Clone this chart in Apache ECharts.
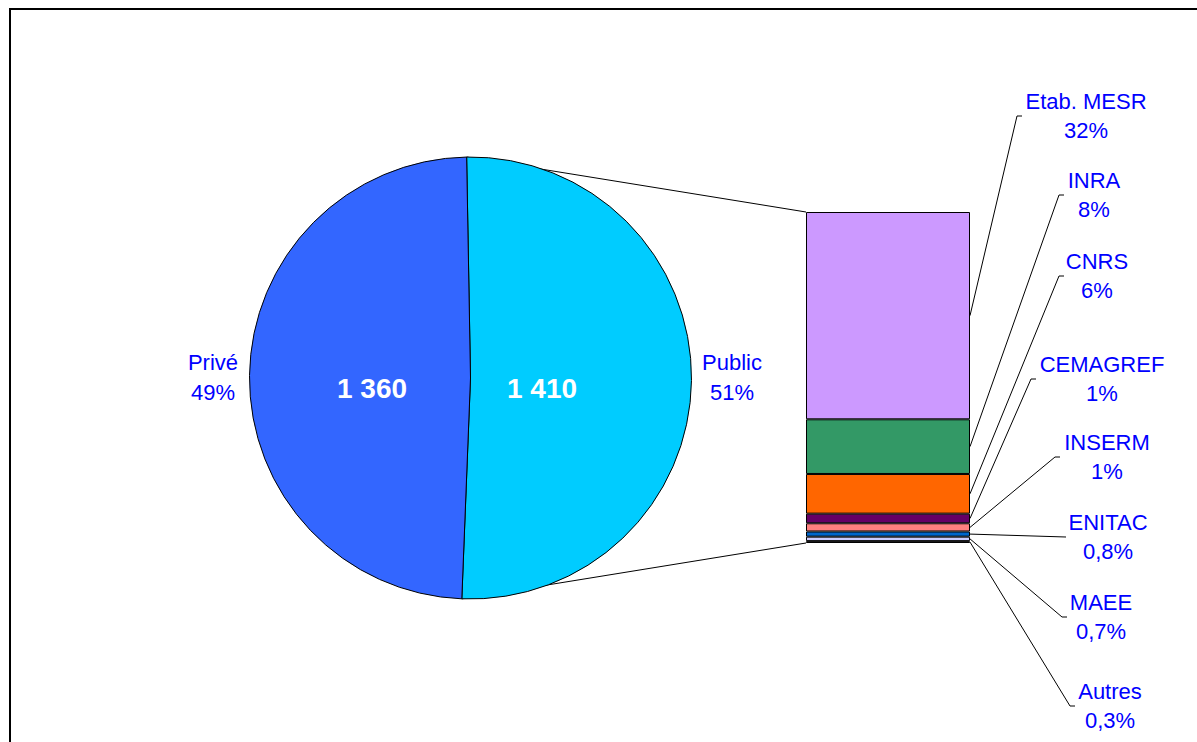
<!DOCTYPE html>
<html>
<head>
<meta charset="utf-8">
<script src="https://cdn.jsdelivr.net/npm/echarts@6/dist/echarts.min.js"></script>
<style>
html,body{margin:0;padding:0;background:#fff;}
#chart{width:1197px;height:742px;}
</style>
</head>
<body>
<div id="chart"></div>
<script>
// ---- Data ----
const pieNames = ['Public', 'Privé'];
const pieValues = [1410, 1360];
const barNames = ['Etab. MESR', 'INRA', 'CNRS', 'CEMAGREF', 'INSERM', 'ENITAC', 'MAEE', 'Autres'];
const barValues = [883, 233, 169, 41, 35, 22, 19, 8];
const barPctLabels = ['32%', '8%', '6%', '1%', '1%', '0,8%', '0,7%', '0,3%'];

// ---- Styles / layout ----
const pieColors = ['#00CCFF', '#3366FF'];
const barColors = ['#CC99FF', '#339966', '#FF6600', '#660066', '#FF8080', '#0066CC', '#CCCCFF', '#C0C0C0'];
const labelColor = '#0000FF';
const FONT = '"Liberation Sans", Arial, sans-serif';
const pieCenter = [470.5, 378];
const pieRadius = 221;
const pieStart = 91;
const grid = {left: 806, top: 212, width: 164, height: 331};
const pieValuePos = [[542, 388], [372, 388]];
const pieNamePos = [[732, 377], [213, 377]];
const leaderEnds = [[1017,116],[1059,195],[1059,276],[1031,379],[1055,457],[1066,537],[1062,617],[1070,706]];
const leaderTick = [5,5,5,5,5,0,5,5];
const labelCenterX = [1086,1094,1097,1102,1107,1108,1101,1110];

const total = pieValues.reduce((a, b) => a + b, 0);
const publicTotal = pieValues[0];
function fmt(v) { return String(v).replace(/\B(?=(\d{3})+(?!\d))/g, ' '); }

const chart = echarts.init(document.getElementById('chart'), null, {renderer: 'svg'});

const barSeries = barNames.map((n, i) => ({
  name: n,
  type: 'bar',
  stack: 'pub',
  barWidth: '100%',
  data: [barValues[i]],
  itemStyle: {color: barColors[i], borderColor: '#000', borderWidth: 1},
  emphasis: {disabled: true},
  z: 3
}));

chart.setOption({
  animation: false,
  backgroundColor: '#fff',
  grid: Object.assign({containLabel: false}, grid),
  xAxis: {type: 'category', data: ['Public'], show: false},
  yAxis: {type: 'value', min: 0, max: publicTotal, inverse: true, show: false},
  series: [
    {
      type: 'pie',
      center: pieCenter,
      radius: pieRadius,
      startAngle: pieStart,
      clockwise: true,
      z: 3,
      emphasis: {disabled: true},
      itemStyle: {borderColor: '#000', borderWidth: 1},
      data: pieNames.map((n, i) => ({name: n, value: pieValues[i], itemStyle: {color: pieColors[i]}})),
      label: {
        show: true,
        position: 'inside',
        formatter: p => fmt(p.value),
        color: '#fff',
        fontWeight: 'bold',
        fontSize: 28,
        fontFamily: FONT
      },
      labelLayout: p => ({x: pieValuePos[p.dataIndex][0], y: pieValuePos[p.dataIndex][1], align: 'center', verticalAlign: 'middle'}),
      labelLine: {show: false}
    }
  ].concat(barSeries)
});

// ---- Annotations computed from data through the library scales ----
const graphics = [];
graphics.push({type: 'rect', z: 0, shape: {x: 10, y: 9, width: 1200, height: 800}, style: {fill: 'none', stroke: '#000', lineWidth: 2}});

// connector lines from Public slice edges to bar corners
const toRad = Math.PI / 180;
const a0 = pieStart * toRad;
const a1 = (pieStart - 360 * pieValues[0] / total) * toRad;
const p0 = [pieCenter[0] + pieRadius * Math.cos(a0), pieCenter[1] - pieRadius * Math.sin(a0)];
const p1 = [pieCenter[0] + pieRadius * Math.cos(a1), pieCenter[1] - pieRadius * Math.sin(a1)];
const yTop = chart.convertToPixel({yAxisIndex: 0}, 0);
const yBot = chart.convertToPixel({yAxisIndex: 0}, publicTotal);
graphics.push({type: 'line', z: 1, shape: {x1: p0[0], y1: p0[1], x2: grid.left, y2: yTop}, style: {stroke: '#000', lineWidth: 1}});
graphics.push({type: 'line', z: 1, shape: {x1: p1[0], y1: p1[1], x2: grid.left, y2: yBot}, style: {stroke: '#000', lineWidth: 1}});

// pie outer labels
pieNames.forEach((n, i) => {
  graphics.push({
    type: 'text', z: 5, x: pieNamePos[i][0], y: pieNamePos[i][1],
    style: {text: n + '\n' + Math.round(pieValues[i] / total * 100) + '%', fill: labelColor, font: '22px ' + FONT, align: 'center', verticalAlign: 'middle', lineHeight: 30}
  });
});

// bar leader lines and labels
let cum = 0;
const barRight = grid.left + grid.width;
barValues.forEach((v, i) => {
  const mid = cum + v / 2;
  cum += v;
  const y = chart.convertToPixel({yAxisIndex: 0}, mid);
  const e = leaderEnds[i];
  graphics.push({type: 'polyline', z: 1, shape: {points: [[barRight, y], e, [e[0] + leaderTick[i], e[1]]]}, style: {stroke: '#000', lineWidth: 1, fill: 'none'}});
  graphics.push({
    type: 'text', z: 5, x: labelCenterX[i], y: e[1],
    style: {text: barNames[i] + '\n' + barPctLabels[i], fill: labelColor, font: '22px ' + FONT, align: 'center', verticalAlign: 'middle', lineHeight: 29}
  });
});

chart.setOption({graphic: graphics});
</script>
</body>
</html>
